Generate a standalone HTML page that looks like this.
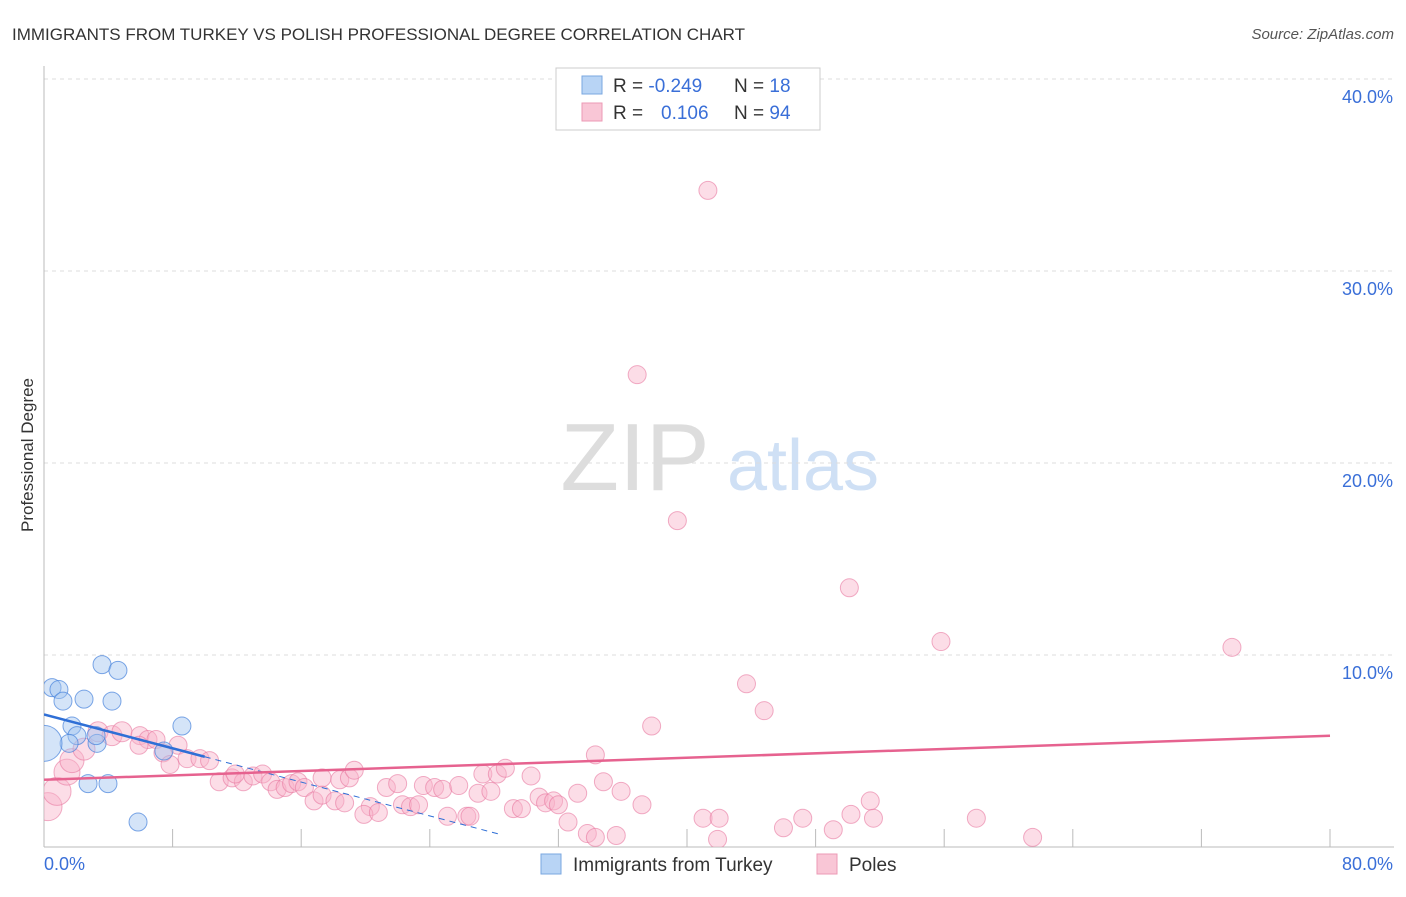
<!DOCTYPE html>
<html><head><meta charset="utf-8"><style>
body{margin:0;background:#fff;font-family:"Liberation Sans",sans-serif}
svg text{font-family:"Liberation Sans",sans-serif}
</style></head><body>
<svg id="chart" width="1406" height="892" viewBox="0 0 1406 892">
<defs><clipPath id="plotclip"><rect x="44" y="60" width="1360" height="787"/></clipPath></defs>
<text x="12" y="40" font-size="17" fill="#333">IMMIGRANTS FROM TURKEY VS POLISH PROFESSIONAL DEGREE CORRELATION CHART</text>
<text x="1394" y="39" font-size="15" fill="#555" font-style="italic" text-anchor="end">Source: ZipAtlas.com</text>
<g>
<text x="635" y="490" font-size="96" fill="#ddd" font-family="Liberation Serif" text-anchor="middle">ZIP</text>
<text x="803" y="490" font-size="72" fill="#cfe0f5" text-anchor="middle">atlas</text>
</g>
<g id="grid"></g>
<g id="axes"></g>
<g id="marks" clip-path="url(#plotclip)"></g>
<text transform="translate(33,455) rotate(-90)" font-size="17" fill="#333" text-anchor="middle">Professional Degree</text>
<g>
<rect x="556" y="68" width="264" height="62" fill="#fff" stroke="#ccc"/>
<rect x="582" y="76" width="20" height="18" fill="#b8d4f5" stroke="#7aa7e0"/>
<rect x="582" y="103" width="20" height="18" fill="#f9c6d6" stroke="#ec9ab5"/>
<text x="613" y="92" font-size="19" fill="#333">R = <tspan fill="#3a6fd8">-0.249</tspan></text>
<text x="734" y="92" font-size="19" fill="#333">N = <tspan fill="#3a6fd8"> 18</tspan></text>
<text x="613" y="119" font-size="19" fill="#333">R = <tspan fill="#3a6fd8" x="661">0.106</tspan></text>
<text x="734" y="119" font-size="19" fill="#333">N = <tspan fill="#3a6fd8">94</tspan></text>
</g>
<g>
<rect x="541" y="854" width="20" height="20" fill="#b8d4f5" stroke="#7aa7e0"/>
<text x="573" y="871" font-size="19" fill="#333">Immigrants from Turkey</text>
<rect x="817" y="854" width="20" height="20" fill="#f9c6d6" stroke="#ec9ab5"/>
<text x="849" y="871" font-size="19" fill="#333">Poles</text>
</g>
</svg>
<script>
const xTicks=[0,8,16,24,32,40,48,56,64,72,80];
const yTicks=[10,20,30,40];
const yTickLabels=["10.0%","20.0%","30.0%","40.0%"];
const xEndLabels=["0.0%","80.0%"];
const turkeyX=[0.50,0.93,1.18,2.49,3.61,4.60,4.23,1.74,2.05,1.56,3.30,3.24,8.58,7.46,2.74,3.98,5.85,0.0];
const turkeyY=[8.3,8.2,7.6,7.7,9.5,9.2,7.6,6.3,5.8,5.4,5.4,5.8,6.3,5.0,3.3,3.3,1.3,5.4];
const turkeyR=[9,9,9,9,9,9,9,9,9,9,9,9,9,9,9,9,9,18];
const polesX=[41.3,36.9,39.4,50.1,55.8,73.9,43.7,44.8,37.8,34.3,0.25,0.81,1.43,1.74,2.49,3.36,4.23,4.85,5.97,6.47,6.97,5.91,8.34,7.40,7.84,8.90,9.70,10.3,10.9,11.7,12.4,11.9,13.0,13.6,14.1,14.5,15.0,15.4,15.8,16.2,16.8,17.3,17.3,18.1,18.4,19.0,19.3,20.3,19.9,20.8,21.3,22.0,22.3,22.8,23.3,23.6,24.3,24.8,25.1,25.8,26.3,27.0,27.3,27.8,28.2,28.7,29.2,29.7,30.3,30.8,31.2,31.7,32.0,32.6,33.2,33.8,34.3,34.8,35.6,35.9,37.2,41.0,41.9,42.0,46.0,47.2,49.1,50.2,51.4,51.6,58.0,61.5,26.5,18.7];
const polesY=[34.2,24.6,17.0,13.5,10.7,10.4,8.5,7.1,6.3,4.8,2.1,2.9,3.9,4.5,5.1,6.0,5.8,6.0,5.8,5.6,5.6,5.3,5.3,4.9,4.3,4.6,4.6,4.5,3.4,3.6,3.4,3.8,3.7,3.8,3.4,3.0,3.1,3.3,3.4,3.1,2.4,3.6,2.7,2.4,3.5,3.6,4.0,2.1,1.7,1.8,3.1,3.3,2.2,2.1,2.2,3.2,3.1,3.0,1.6,3.2,1.6,2.8,3.8,2.9,3.8,4.1,2.0,2.0,3.7,2.6,2.3,2.4,2.2,1.3,2.8,0.7,0.5,3.4,0.6,2.9,2.2,1.5,0.4,1.5,1.0,1.5,0.9,1.7,2.4,1.5,1.5,0.5,1.6,2.3];
const polesR=[9,9,9,9,9,9,9,9,9,9,14,14,13,12,11,10,10,10,9,9,9,9,9,9,9,9,9,9,9,9,9,9,9,9,9,9,9,9,9,9,9,9,9,9,9,9,9,9,9,9,9,9,9,9,9,9,9,9,9,9,9,9,9,9,9,9,9,9,9,9,9,9,9,9,9,9,9,9,9,9,9,9,9,9,9,9,9,9,9,9,9,9,9,9];
const turkeyTrend=[6.9,-0.22];
const polesTrend=[3.5,0.0287];
const X0=44,X1=1330,Y0=847,Y1=79;
const sx=v=>X0+(v-0)/80*(X1-X0);
const sy=v=>Y0-(v/40)*(Y0-Y1);
const NS="http://www.w3.org/2000/svg";
function mk(tag,attrs,parent){const e=document.createElementNS(NS,tag);for(const k in attrs)e.setAttribute(k,attrs[k]);parent.appendChild(e);return e;}
const grid=document.getElementById('grid'),axes=document.getElementById('axes'),marks=document.getElementById('marks');
yTicks.forEach((t,i)=>{
 const l=mk('line',{x1:X0,x2:1394,y1:sy(t),y2:sy(t),stroke:'#ddd','stroke-dasharray':'4,4'},grid);
 
 
 const tx=mk('text',{x:1393,y:sy(t)+24,'font-size':18,fill:'#3a6fd8','text-anchor':'end'},axes);
 tx.textContent=yTickLabels[i];
 
 
});
const ya=mk('line',{x1:X0,x2:X0,y1:66,y2:Y0,stroke:'#bbb'},axes);


const xa=mk('line',{x1:X0,x2:1394,y1:Y0,y2:Y0,stroke:'#bbb'},axes);


xTicks.forEach(t=>{
 const l=mk('line',{x1:sx(t),x2:sx(t),y1:Y0-18,y2:Y0,stroke:'#bbb'},axes);
 
 
});
[[xTicks[0],'start'],[xTicks[xTicks.length-1],'end']].forEach((d,i)=>{
 const tx=mk('text',{x:i==0?X0:1393,y:870,'font-size':18,fill:'#3a6fd8','text-anchor':d[1]},axes);
 tx.textContent=xEndLabels[i];
 
 
});
polesX.forEach((x,i)=>{
 const c=mk('circle',{cx:sx(x),cy:sy(polesY[i]),r:polesR[i],fill:'rgba(249,180,202,0.45)',stroke:'rgba(232,120,160,0.6)','stroke-width':1},marks);
 
 
});
turkeyX.forEach((x,i)=>{
 const c=mk('circle',{cx:sx(x),cy:sy(turkeyY[i]),r:turkeyR[i],fill:'rgba(160,196,240,0.45)',stroke:'rgba(70,130,220,0.7)','stroke-width':1},marks);
 
 
});
const tl=x=>turkeyTrend[0]+turkeyTrend[1]*x;
const pl=x=>polesTrend[0]+polesTrend[1]*x;
const t1=mk('line',{x1:sx(0),y1:sy(tl(0)),x2:sx(10),y2:sy(tl(10)),stroke:'#2f6fd6','stroke-width':2.5},marks);


const t2=mk('line',{x1:sx(10),y1:sy(tl(10)),x2:sx(28.5),y2:sy(tl(28.5)),stroke:'#2f6fd6','stroke-width':1,'stroke-dasharray':'6,5'},marks);


const p1=mk('line',{x1:sx(0),y1:sy(pl(0)),x2:sx(80),y2:sy(pl(80)),stroke:'#e6628f','stroke-width':2.5},marks);


</script>
</body></html>
